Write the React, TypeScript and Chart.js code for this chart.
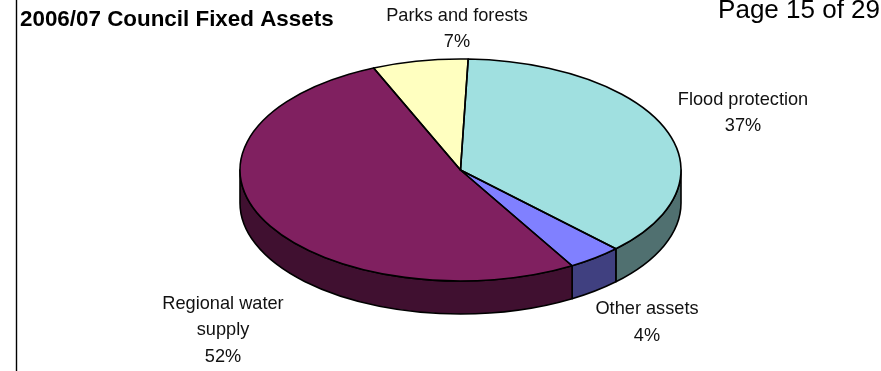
import React, { useEffect, useRef } from "react";
import { Chart, registerables } from "chart.js";

Chart.register(...registerables);

const categories = ["Flood protection", "Other assets", "Regional water supply", "Parks and forests"];
const assetShares = [37, 4, 52, 7];
const topColors = ["#A0E0E0", "#8080FF", "#802060", "#FFFFC0"];
const sideColors = ["#507070", "#404080", "#401030", "#808060"];
const titleText = "2006/07 Council Fixed Assets";
const pageText = "Page 15 of 29";

const WIDTH = 881;
const HEIGHT = 371;
const RADIUS = 220.5;
const SQUASH = 111 / 220.5;
const DEPTH = 33;
const PEN = 1.6;
const FONT_FAMILY = '"Liberation Sans", Arial, sans-serif';
const LABEL_LINE_HEIGHT = 26.5;
const LABEL_WRAP_WIDTH = 170;
// Centre of the first line of each slice label.
const labelAnchors = [
  { x: 743, y: 99.7 },
  { x: 647, y: 309.3 },
  { x: 223, y: 303.7 },
  { x: 457, y: 15.7 },
];

const norm = (a: number) => {
  const t = Math.PI * 2;
  return ((a % t) + t) % t;
};

// Portions of an arc that fall on the near (lower) half of the ellipse.
function frontSpans(start: number, end: number): [number, number][] {
  const t = Math.PI * 2;
  const spans: [number, number][] = [];
  for (const shift of [-t, 0, t]) {
    const a = Math.max(start, shift);
    const b = Math.min(end, shift + Math.PI);
    if (b > a) spans.push([a, b]);
  }
  return spans;
}

function wrapLabel(ctx: CanvasRenderingContext2D, text: string): string[] {
  const lines: string[] = [];
  let line = "";
  for (const word of text.split(" ")) {
    const next = line ? line + " " + word : word;
    if (line && ctx.measureText(next).width > LABEL_WRAP_WIDTH) {
      lines.push(line);
      line = word;
    } else {
      line = next;
    }
  }
  lines.push(line);
  return lines;
}

// Tilts the pie: squashes the library's arcs vertically, extrudes a rim under
// them, and outlines everything at an even pen width.
const tiltedPie = {
  id: "tiltedPie",
  beforeDatasetDraw(chart: any) {
    const ctx: CanvasRenderingContext2D = chart.ctx;
    const arcs = chart.getDatasetMeta(0).data;
    const { x: cx, y: cy, outerRadius: rx } = arcs[0];
    const ry = rx * SQUASH;
    ctx.save();
    ctx.lineWidth = PEN;
    ctx.strokeStyle = "#000";
    ctx.lineJoin = "round";
    arcs.forEach((arc: any, i: number) => {
      const start = norm(arc.startAngle);
      const end = start + (arc.endAngle - arc.startAngle);
      for (const [a, b] of frontSpans(start, end)) {
        ctx.beginPath();
        ctx.ellipse(cx, cy, rx, ry, 0, a, b);
        ctx.ellipse(cx, cy + DEPTH, rx, ry, 0, b, a, true);
        ctx.closePath();
        ctx.fillStyle = sideColors[i];
        ctx.fill();
        ctx.stroke();
      }
    });
    ctx.restore();
    ctx.save();
    ctx.translate(0, cy);
    ctx.scale(1, SQUASH);
    ctx.translate(0, -cy);
  },
  afterDatasetDraw(chart: any) {
    const ctx: CanvasRenderingContext2D = chart.ctx;
    ctx.restore();
    const arcs = chart.getDatasetMeta(0).data;
    ctx.save();
    ctx.lineWidth = PEN;
    ctx.strokeStyle = "#000";
    ctx.lineJoin = "round";
    arcs.forEach((arc: any) => {
      const ry = arc.outerRadius * SQUASH;
      ctx.beginPath();
      ctx.moveTo(arc.x, arc.y);
      ctx.ellipse(arc.x, arc.y, arc.outerRadius, ry, 0, arc.startAngle, arc.endAngle);
      ctx.closePath();
      ctx.stroke();
    });
    ctx.restore();
  },
  afterDraw(chart: any) {
    const ctx: CanvasRenderingContext2D = chart.ctx;
    ctx.save();

    // Frame edge on the left of the page.
    ctx.strokeStyle = "#000";
    ctx.lineWidth = 1.4;
    ctx.beginPath();
    ctx.moveTo(16.5, 0);
    ctx.lineTo(16.5, HEIGHT);
    ctx.stroke();

    ctx.fillStyle = "#000";
    ctx.textBaseline = "alphabetic";
    ctx.textAlign = "left";
    ctx.font = `bold 22.4px ${FONT_FAMILY}`;
    ctx.fillText(titleText, 20, 26);

    ctx.textAlign = "right";
    ctx.font = `26px ${FONT_FAMILY}`;
    ctx.fillText(pageText, 880, 17.5);

    ctx.textAlign = "center";
    ctx.textBaseline = "middle";
    ctx.font = `18.2px ${FONT_FAMILY}`;
    ctx.fillStyle = "#111";
    categories.forEach((name, i) => {
      const lines = [...wrapLabel(ctx, name), `${assetShares[i]}%`];
      lines.forEach((line, n) => {
        ctx.fillText(line, labelAnchors[i].x, labelAnchors[i].y + n * LABEL_LINE_HEIGHT);
      });
    });
    ctx.restore();
  },
};

export default function App() {
  const canvasRef = useRef<HTMLCanvasElement | null>(null);

  useEffect(() => {
    document.body.style.margin = "0";
    document.body.style.background = "#fff";
    const chart = new Chart(canvasRef.current as HTMLCanvasElement, {
      type: "pie",
      data: {
        labels: categories,
        datasets: [
          {
            data: assetShares,
            backgroundColor: topColors,
            borderWidth: 0,
            clip: false,
          },
        ],
      },
      options: {
        responsive: false,
        animation: false,
        rotation: 2,
        radius: RADIUS,
        layout: { padding: { left: 40, bottom: 31 } },
        plugins: { legend: { display: false }, tooltip: { enabled: false } },
      },
      plugins: [tiltedPie],
    } as any);
    return () => chart.destroy();
  }, []);

  return <canvas ref={canvasRef} width={WIDTH} height={HEIGHT} style={{ display: "block" }} />;
}
